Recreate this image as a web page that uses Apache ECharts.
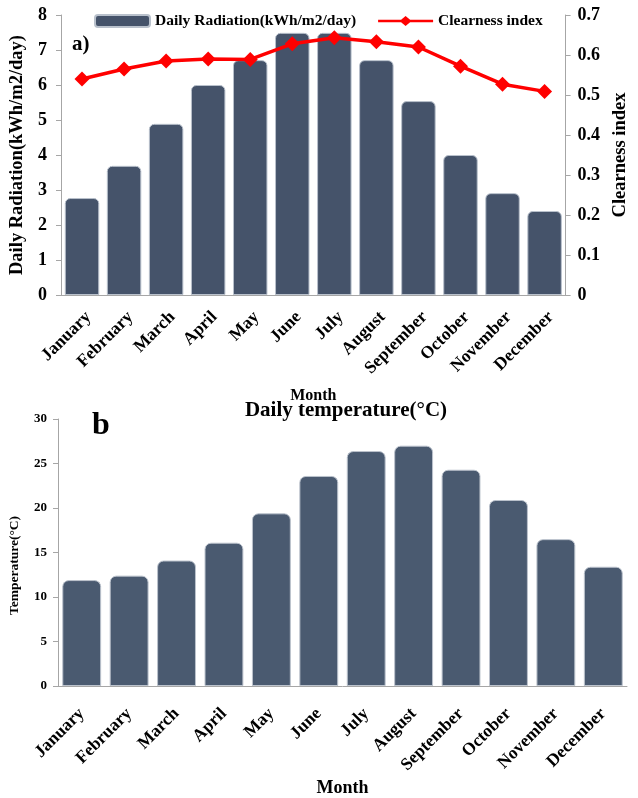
<!DOCTYPE html>
<html><head><meta charset="utf-8">
<script src="https://cdn.jsdelivr.net/npm/echarts@6/dist/echarts.min.js"></script>
<style>html,body{margin:0;padding:0;background:#fff}#c{width:638px;height:798px}</style>
</head><body><div id="c"></div>
<script>
var months = ['January','February','March','April','May','June','July','August','September','October','November','December'];
var radiation = [2.77, 3.69, 4.89, 6.0, 6.71, 7.49, 7.49, 6.71, 5.54, 4.0, 2.91, 2.4];
var clearness = [0.54, 0.565, 0.585, 0.59, 0.589, 0.628, 0.643, 0.633, 0.62, 0.572, 0.527, 0.509];
var temperature = [11.9, 12.4, 14.1, 16.1, 19.4, 23.6, 26.4, 27.0, 24.3, 20.9, 16.5, 13.4];

var F = 'Liberation Serif';
var axisColor = '#a6a6a6';
var chart = echarts.init(document.getElementById('c'), null, {renderer:'canvas'});
function lbl(size){return {color:'#000',fontFamily:F,fontWeight:'bold',fontSize:size};}
chart.setOption({
  animation:false,
  textStyle:{fontFamily:F},
  title:[
    {text:'a)',left:72,top:34,padding:0,textStyle:{fontFamily:F,fontWeight:'bold',fontSize:21,color:'#000'}},
    {text:'b',left:92,top:410,padding:0,textStyle:{fontFamily:F,fontWeight:'bold',fontSize:32,color:'#000'}},
    {text:'Daily temperature(°C)',left:346,textAlign:'center',top:400,padding:0,textStyle:{fontFamily:F,fontWeight:'bold',fontSize:21,color:'#000'}}
  ],
  legend:{
    left:94, top:13, itemGap:22, padding:0,
    textStyle:{fontFamily:F,fontWeight:'bold',fontSize:15.5,color:'#000'},
    data:[
      {name:'Daily Radiation(kWh/m2/day)', icon:'roundRect', itemStyle:{color:'#45536a'}},
      {name:'Clearness index', icon:'path://M0,4.8L23,4.8L27.5,1L32,4.8L55,4.8L55,7.2L32,7.2L27.5,11L23,7.2L0,7.2Z', itemStyle:{color:'#ff0000'}}
    ],
    itemWidth:55, itemHeight:12
  },
  grid:[
    {left:58, right:60, top:15, height:280},
    {left:58, right:11, top:419, height:268}
  ],
  xAxis:[
    {type:'category', gridIndex:0, data:months,
     axisLine:{lineStyle:{color:axisColor}}, axisTick:{length:5,lineStyle:{color:axisColor}},
     axisLabel:Object.assign(lbl(17.5),{rotate:45,margin:13,verticalAlign:'top'}),
     name:'Month', nameLocation:'middle', nameGap:93, nameTextStyle:lbl(16)},
    {type:'category', gridIndex:1, data:months,
     axisLine:{lineStyle:{color:axisColor}}, axisTick:{length:5,lineStyle:{color:axisColor}},
     axisLabel:Object.assign(lbl(17.5),{rotate:45,margin:25}),
     name:'Month', nameLocation:'middle', nameGap:93, nameTextStyle:lbl(18)}
  ],
  yAxis:[
    {type:'value', gridIndex:0, min:0, max:8, interval:1,
     axisLine:{show:true,lineStyle:{color:axisColor}}, axisTick:{show:true,length:5,lineStyle:{color:axisColor}},
     splitLine:{show:false}, axisLabel:Object.assign(lbl(18),{margin:14}),
     name:'Daily Radiation(kWh/m2/day)', nameLocation:'middle', nameGap:34, nameTextStyle:lbl(18.5)},
    {type:'value', gridIndex:0, position:'right', min:0, max:0.7, interval:0.1,
     axisLine:{show:true,lineStyle:{color:axisColor}}, axisTick:{show:true,length:5,lineStyle:{color:axisColor}},
     splitLine:{show:false}, axisLabel:Object.assign(lbl(18),{margin:12,formatter:function(v){return v===0?'0':v.toFixed(1);}}),
     name:'Clearness index', nameLocation:'middle', nameGap:45, nameRotate:90, nameTextStyle:lbl(18.5)},
    {type:'value', gridIndex:1, min:0, max:30, interval:5,
     axisLine:{show:true,lineStyle:{color:axisColor}}, axisTick:{show:true,length:5,lineStyle:{color:axisColor}},
     splitLine:{show:false}, axisLabel:Object.assign(lbl(13),{margin:11}),
     name:'Temperature(°C)', nameLocation:'middle', nameGap:36,
     nameTextStyle:Object.assign(lbl(13.5),{padding:[0,26,0,0]})}
  ],
  series:[
    {name:'Daily Radiation(kWh/m2/day)', type:'bar', xAxisIndex:0, yAxisIndex:0, data:radiation,
     barCategoryGap:'18%',
     itemStyle:{color:'#45536a', borderColor:'#b9c1cc', borderWidth:1, borderRadius:[5,5,0,0]}},
    {name:'Clearness index', type:'line', xAxisIndex:0, yAxisIndex:1, data:clearness,
     symbol:'diamond', symbolSize:15, lineStyle:{color:'#ff0000',width:3.5},
     itemStyle:{color:'#ff0000'}},
    {name:'Daily temperature', type:'bar', xAxisIndex:1, yAxisIndex:2, data:temperature,
     barCategoryGap:'18%',
     itemStyle:{color:'#4a5a70', borderColor:'#bcc3cd', borderWidth:1, borderRadius:[6,6,0,0]}}
  ]
});
</script></body></html>
